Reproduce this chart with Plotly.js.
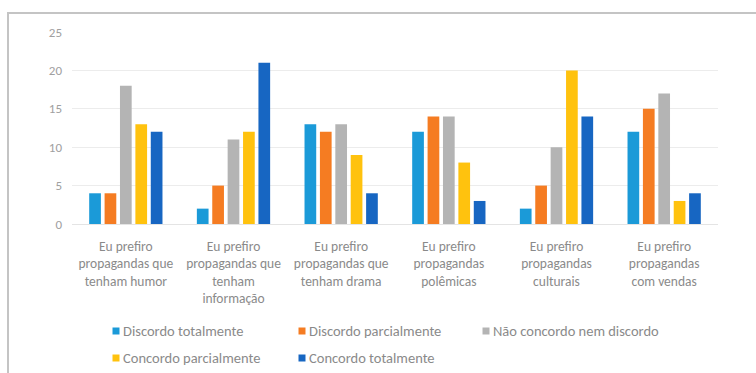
<!DOCTYPE html>
<html>
<head>
<meta charset="utf-8">
<script src="https://cdn.plot.ly/plotly-3.0.1.min.js"></script>
<style>
  html, body { margin: 0; padding: 0; background: #fff; }
  #wrap { position: relative; width: 756px; height: 373px; overflow: hidden; }
  #chart { position: absolute; left: 0; top: 0; width: 756px; height: 373px; }
  #frame { position: absolute; left: 7px; top: 12px; width: 760px; height: 380px;
           border-top: 2px solid #c4c4c4; border-left: 2px solid #c4c4c4; pointer-events: none; }
</style>
</head>
<body>
<div id="wrap">
  <div id="chart"></div>
  <div id="frame"></div>
</div>
<script>
// Survey statements (x categories)
const categories = [
  "Eu prefiro<br>propagandas que<br>tenham humor",
  "Eu prefiro<br>propagandas que<br>tenham<br>informação",
  "Eu prefiro<br>propagandas que<br>tenham drama",
  "Eu prefiro<br>propagandas<br>polêmicas",
  "Eu prefiro<br>propagandas<br>culturais",
  "Eu prefiro<br>propagandas<br>com vendas"
];

// Answer options
const seriesNames = [
  "Discordo totalmente",
  "Discordo parcialmente",
  "Não concordo nem discordo",
  "Concordo parcialmente",
  "Concordo totalmente"
];

// Number of answers per option
const discordoTotalmente     = [4, 2, 13, 12, 2, 12];
const discordoParcialmente   = [4, 5, 12, 14, 5, 15];
const naoConcordoNemDiscordo = [18, 11, 13, 14, 10, 17];
const concordoParcialmente   = [13, 12, 9, 8, 20, 3];
const concordoTotalmente     = [12, 21, 4, 3, 14, 4];

const seriesValues = [
  discordoTotalmente, discordoParcialmente, naoConcordoNemDiscordo,
  concordoParcialmente, concordoTotalmente
];

const yTickValues = [0, 5, 10, 15, 20, 25];

const colors = ["#1b9ad8", "#f57c22", "#b4b4b4", "#ffc20e", "#1766c2"];

const FONT = "Carlito, 'Liberation Sans', Arial, sans-serif";
const TEXT = "#8a8a8a";
const M = { l: 72, r: 38, t: 32, b: 149 };
const W = 756, H = 373;
const plotW = W - M.l - M.r, plotH = H - M.t - M.b;
const px = x => (x - M.l) / plotW;
const py = y => (H - M.b - y) / plotH;

const traces = seriesNames.map((name, i) => ({
  type: "bar",
  name: name,
  x: categories,
  y: seriesValues[i],
  marker: { color: colors[i] },
  hoverinfo: "x+y+name",
  showlegend: false
}));

// Legend laid out in two rows below the axis
const legendSlots = [
  { x: 116, y: 331 }, { x: 302, y: 331 }, { x: 486, y: 331 },
  { x: 116, y: 358 }, { x: 302, y: 358 }
];
const shapes = [];
const annotations = [];
seriesNames.forEach((name, i) => {
  const s = legendSlots[i];
  shapes.push({
    type: "rect", xref: "paper", yref: "paper",
    x0: px(s.x - 3.5), x1: px(s.x + 3.5), y0: py(s.y + 3.5), y1: py(s.y - 3.5),
    fillcolor: colors[i], line: { width: 0 }
  });
  annotations.push({
    xref: "paper", yref: "paper", x: px(s.x + 5), y: py(s.y),
    xanchor: "left", yanchor: "middle", showarrow: false,
    text: name, font: { family: FONT, size: 14.5, color: TEXT }
  });
});

const layout = {
  width: W, height: H,
  margin: M,
  paper_bgcolor: "rgba(0,0,0,0)",
  plot_bgcolor: "rgba(0,0,0,0)",
  barmode: "group",
  bargap: 0.285,
  bargroupgap: 0.24,
  font: { family: FONT, size: 13, color: TEXT },
  xaxis: {
    type: "category",
    showgrid: false,
    showline: false,
    zeroline: false,
    ticks: "",
    ticklabelstandoff: 12,
    tickfont: { family: FONT, size: 13.5, color: TEXT },
    fixedrange: true
  },
  yaxis: {
    range: [0, 25],
    tickvals: yTickValues,
    ticktext: yTickValues.map(String),
    showgrid: true,
    gridcolor: "#ececec",
    gridwidth: 1,
    zeroline: true,
    zerolinecolor: "#e4e4e4",
    zerolinewidth: 1,
    showline: false,
    ticks: "",
    ticklabelstandoff: 9,
    tickfont: { family: FONT, size: 13, color: "#a0a0a0" },
    fixedrange: true
  },
  shapes: shapes,
  annotations: annotations
};

Plotly.newPlot("chart", traces, layout, { displayModeBar: false, staticPlot: true });
</script>
</body>
</html>
